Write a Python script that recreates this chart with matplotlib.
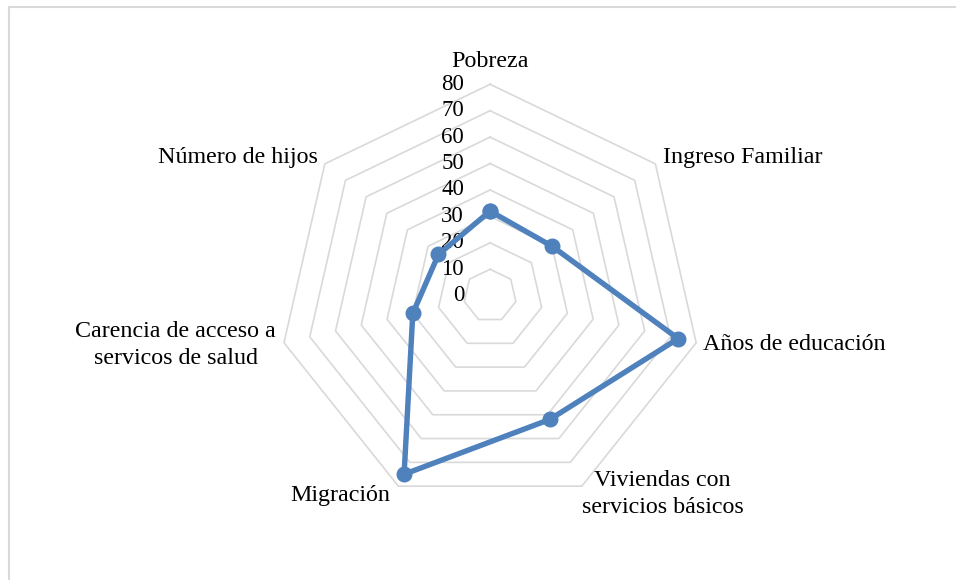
import numpy as np
import matplotlib
matplotlib.use("Agg")
import matplotlib.pyplot as plt
from matplotlib.lines import Line2D

plt.rcParams["font.family"] = ["Liberation Serif", "DejaVu Serif"]

# data
categories = ["Pobreza", "Ingreso Familiar", "Años de educación",
              "Viviendas con\nservicios básicos", "Migración",
              "Carencia de acceso a\nservicos de salud", "Número de hijos"]
values = [32, 30, 73, 52, 75, 30, 25]
ring_values = [10, 20, 30, 40, 50, 60, 70, 80]
tick_labels = ["0", "10", "20", "30", "40", "50", "60", "70", "80"]

blue = "#4F81BD"
grid_c = "#D9D9D9"

n = len(categories)
theta = np.arange(n) * 2 * np.pi / n
theta_closed = np.append(theta, theta[0])

fig = plt.figure(figsize=(9.56, 5.8), dpi=100)
ax = fig.add_axes([0.2915, 0.1257, 0.4423, 0.7290], projection="polar")
ax.set_theta_offset(np.pi / 2)
ax.set_theta_direction(-1)
ax.set_ylim(0, 80)
ax.grid(False)
ax.set_xticks([])
ax.set_yticks([])
ax.spines["polar"].set_visible(False)
ax.patch.set_alpha(0)

# heptagon rings
for r in ring_values:
    ax.plot(theta_closed, [r] * (n + 1), color=grid_c, lw=1.2, clip_on=False, zorder=1)

# radial value labels
for v, lab in zip([0] + ring_values, tick_labels):
    ax.annotate(lab, xy=(0, v), xytext=(-26, 0), textcoords="offset pixels",
                ha="right", va="center", fontsize=16.5, annotation_clip=False)

# series
vals_closed = values + values[:1]
ax.plot(theta_closed, vals_closed, color=blue, lw=3.9, marker="o", ms=10.5,
        zorder=3, clip_on=False)

# category labels (offset in pixels, alignment)
label_pos = [((0, 23), "center", "center"),
             ((8, 6), "left", "center"),
             ((7, -2), "left", "center"),
             ((0, -8), "left", "center"),
             ((-8, -9), "right", "center"),
             ((-8, -2), "right", "center"),
             ((-7, 6), "right", "center")]
for t, lab, (off, ha, va) in zip(theta, categories, label_pos):
    ax.annotate(lab, xy=(t, 80), xytext=off, textcoords="offset pixels",
                ha=ha, va=va, multialignment="center", fontsize=17.3,
                linespacing=1.4, annotation_clip=False)

# chart area border (left and top visible)
fig.add_artist(Line2D([9 / 956, 9 / 956], [0, 1 - 7 / 580], transform=fig.transFigure,
                      color=grid_c, lw=1.5))
fig.add_artist(Line2D([9 / 956, 1], [1 - 7 / 580, 1 - 7 / 580], transform=fig.transFigure,
                      color=grid_c, lw=1.5))

fig.savefig("out.png", dpi=100)
